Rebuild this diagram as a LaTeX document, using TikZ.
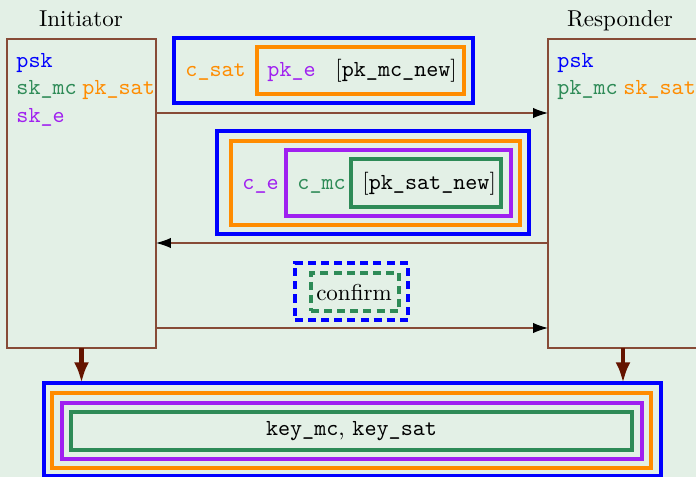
\documentclass[tikz,border=0pt]{standalone}
\usetikzlibrary{fit,arrows.meta}
\definecolor{cblue}{RGB}{0,0,255}
\definecolor{corange}{RGB}{255,140,0}
\definecolor{cpurple}{RGB}{160,32,240}
\definecolor{cgreen}{RGB}{46,139,87}
\definecolor{cbrown}{RGB}{135,75,55}
\definecolor{cdark}{RGB}{100,20,0}
\definecolor{bg}{RGB}{227,240,230}
\tikzset{
  anybox/.style={draw, rectangle, inner sep=0pt, outer sep=0pt},
  bluebox/.style={anybox, cblue, line width=1.4pt},
  orangebox/.style={anybox, corange, line width=1.4pt},
  purplebox/.style={anybox, cpurple, line width=1.35pt},
  greenbox/.style={anybox, cgreen, line width=1.35pt},
  dashblue/.style={anybox, cblue, line width=1.35pt, dash pattern=on 3.5pt off 2.2pt},
  dashgreen/.style={anybox, cgreen, line width=1.35pt, dash pattern=on 3.5pt off 2.2pt},
  partybox/.style={anybox, cbrown, line width=0.5pt},
  title/.style={anchor=base, inner sep=0pt, font=\normalfont},
  lbl/.style={anchor=base west, inner sep=0pt, font=\ttfamily},
  msgarrow/.style={cbrown, line width=0.5pt, -{Latex[length=6.5pt,width=4.5pt,color=black]}},
  keyarrow/.style={cdark, line width=1.8pt, -{Latex[length=9pt,width=6.5pt]}}
}
\begin{document}
\begin{tikzpicture}[x=0.435pt,y=-0.435pt]
\fill[bg] (0,0) rectangle (696,477);
\useasboundingbox (0,0) rectangle (696,477);
% parties
\node[partybox, fit={(7,39) (156,348)}] (init) {};
\node[partybox, fit={(548,39) (698,348)}] (resp) {};
\node[title] (initlbl) at (81,26) {Initiator};
\node[title] (resplbl) at (620,26) {Responder};
\node[lbl, text=cblue] (ipsk) at (16,67) {psk};
\node[lbl, text=cgreen] (iskmc) at (16,94) {sk\_mc};
\node[lbl, text=corange] (ipksat) at (82,94) {pk\_sat};
\node[lbl, text=cpurple] (iske) at (16,122) {sk\_e};
\node[lbl, text=cblue] (rpsk) at (557,67) {psk};
\node[lbl, text=cgreen] (rpkmc) at (557,94) {pk\_mc};
\node[lbl, text=corange] (rsksat) at (623,94) {sk\_sat};
% message 1
\node[bluebox, fit={(174,38) (473,103)}] (m1b) {};
\node[orangebox, fit={(257,47) (464,94)}] (m1o) {};
\node[lbl, text=corange] (csat) at (185,76) {c\_sat};
\node[lbl, text=cpurple] (pke) at (267,76) {pk\_e};
\node[lbl, font=\normalfont] (pkmcnew) at (335,76) {[\texttt{pk\_mc\_new}]};
% message 2
\node[bluebox, fit={(217,131) (529,234)}] (m2b) {};
\node[orangebox, fit={(231,141) (520,225)}] (m2o) {};
\node[purplebox, fit={(286,150) (511,216)}] (m2p) {};
\node[greenbox, fit={(351,159) (501,207)}] (m2g) {};
\node[lbl, text=cpurple] (ce) at (242,189) {c\_e};
\node[lbl, text=cgreen] (cmc) at (297,189) {c\_mc};
\node[lbl, font=\normalfont] (pksatnew) at (362,189) {[\texttt{pk\_sat\_new}]};
% message 3
\node[dashblue, fit={(295,263) (408,320)}] (m3b) {};
\node[dashgreen, fit={(311,273) (399,311)}] (m3g) {};
\node[inner sep=0pt] (confirm) at (354,293) {confirm};
% arrows
\coordinate (a1) at (0,113);
\coordinate (a2) at (0,243);
\coordinate (a3) at (0,328);
\draw[msgarrow] (init.east |- a1) -- (resp.west |- a1);
\draw[msgarrow] (resp.west |- a2) -- (init.east |- a2);
\draw[msgarrow] (init.east |- a3) -- (resp.west |- a3);
% keys
\node[bluebox, fit={(44,383) (661,476)}] (kb) {};
\node[orangebox, fit={(52,393) (651,468)}] (ko) {};
\node[purplebox, fit={(62,403) (642,459)}] (kp) {};
\node[greenbox, fit={(71,412) (632,450)}] (kg) {};
\node[inner sep=0pt] (keys) at (kg.center) {\texttt{key\_mc}, \texttt{key\_sat}};
\draw[keyarrow] (init.south) -- (kb.north -| init.south);
\draw[keyarrow] (resp.south) -- (kb.north -| resp.south);
\end{tikzpicture}
\end{document}
